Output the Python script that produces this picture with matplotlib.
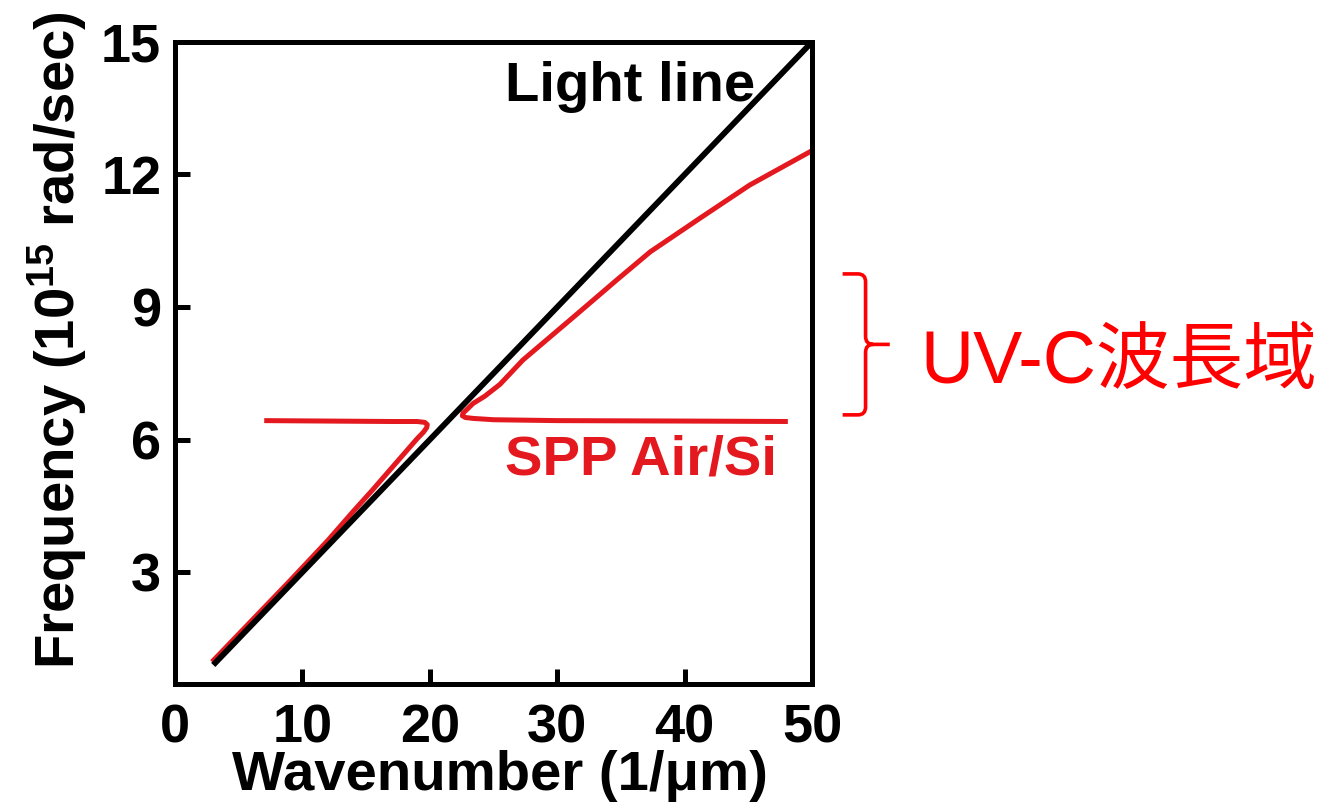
import matplotlib
matplotlib.use("Agg")
import matplotlib.pyplot as plt
from matplotlib.path import Path
from matplotlib.patches import PathPatch

plt.rcParams['font.family'] = ['Liberation Sans', 'DejaVu Sans']
plt.rcParams['font.weight'] = 'bold'
plt.rcParams['mathtext.fontset'] = 'custom'
plt.rcParams['mathtext.rm'] = 'Liberation Sans:bold'
plt.rcParams['mathtext.bf'] = 'Liberation Sans:bold'
plt.rcParams['mathtext.default'] = 'bf'

# data (k in 1/um, omega in 1e15 rad/s)
light_k = [3.0, 50.0]
light_w = [0.9, 15.0]

spp_low_k = [2.9, 6.0, 9.0, 12.0, 14.0, 15.5, 17.4, 19.0, 19.5, 19.75, 19.8, 19.6, 19.0, 17.0, 12.0, 7.0]
spp_low_w = [0.97, 1.90, 2.80, 3.72, 4.38, 4.86, 5.49, 6.02, 6.17, 6.27, 6.34, 6.39, 6.41, 6.41, 6.42, 6.43]

spp_up_k = [48.1, 40.0, 30.0, 25.0, 23.4, 22.8, 22.55, 22.6, 22.9, 23.4, 24.3, 25.5, 27.3, 31.3, 34.7, 37.3, 41.2, 45.1, 50.0]
spp_up_w = [6.41, 6.42, 6.43, 6.45, 6.48, 6.50, 6.54, 6.60, 6.68, 6.82, 6.98, 7.25, 7.80, 8.78, 9.62, 10.25, 11.01, 11.76, 12.54]

xticks = [0, 10, 20, 30, 40, 50]
yticks = [3, 6, 9, 12, 15]

uv_c_band = [6.56, 9.75]

red = '#e3191f'

fig = plt.figure(figsize=(13.23, 8.08), dpi=100)
ax = fig.add_axes([0.1323, 0.1535, 0.4815, 0.7946])

ax.plot(spp_low_k, spp_low_w, color=red, lw=3.6, solid_capstyle='butt', zorder=2)
ax.plot(spp_up_k, spp_up_w, color=red, lw=3.6, solid_capstyle='butt', zorder=2)
ax.plot(light_k, light_w, color='black', lw=4.2, solid_capstyle='butt', zorder=3)

ax.set_xlim(0, 50)
ax.set_ylim(0.47, 15)
ax.set_xticks(xticks)
ax.set_yticks(yticks)
for s in ax.spines.values():
    s.set_linewidth(3.6)
ax.tick_params(direction='in', length=11, width=3.6, labelsize=39)
ax.tick_params(axis='x', pad=14)
ax.tick_params(axis='y', pad=10)

ax.set_xlabel('Wavenumber (1/\u03bcm)', fontsize=40.5, fontweight='bold')
ax.set_ylabel(r'Frequency (10$^{15}$ rad/sec)', fontsize=40.5, fontweight='bold')
ax.xaxis.set_label_coords(0.51, -0.103)
ax.yaxis.set_label_coords(-0.135, 0.535)

ax.text(25.9, 13.66, 'Light line', fontsize=40.5, fontweight='bold', color='black',
        ha='left', va='baseline')
ax.text(25.9, 5.21, 'SPP Air/Si', fontsize=40.5, fontweight='bold', color=red,
        ha='left', va='baseline')

# brace marking the UV-C band
lo, hi = uv_c_band
mid = (lo + hi) / 2
xl, xv, xt = 52.4, 54.2, 56.1
dk, dw = 0.6, 0.18
verts = [(xl, hi), (xv - dk, hi), (xv, hi), (xv, hi - dw), (xv, mid + dw), (xv, mid), (xv + dk, mid),
         (xt, mid),
         (xv + dk, mid), (xv, mid), (xv, mid - dw), (xv, lo + dw), (xv, lo), (xv - dk, lo), (xl, lo)]
codes = [Path.MOVETO, Path.LINETO, Path.CURVE3, Path.CURVE3, Path.LINETO, Path.CURVE3, Path.CURVE3,
         Path.LINETO,
         Path.MOVETO, Path.CURVE3, Path.CURVE3, Path.LINETO, Path.CURVE3, Path.CURVE3, Path.LINETO]
brace = PathPatch(Path(verts, codes), fill=False, edgecolor='#ff0000', lw=2.6, clip_on=False)
ax.add_patch(brace)

ax.text(58.5, 7.28, 'UV-C波長域', fontsize=53, fontweight='normal', color='#ff0000',
        family=['Liberation Sans', 'Noto Sans CJK JP'], ha='left', va='baseline')

fig.savefig('out.png', dpi=100)
